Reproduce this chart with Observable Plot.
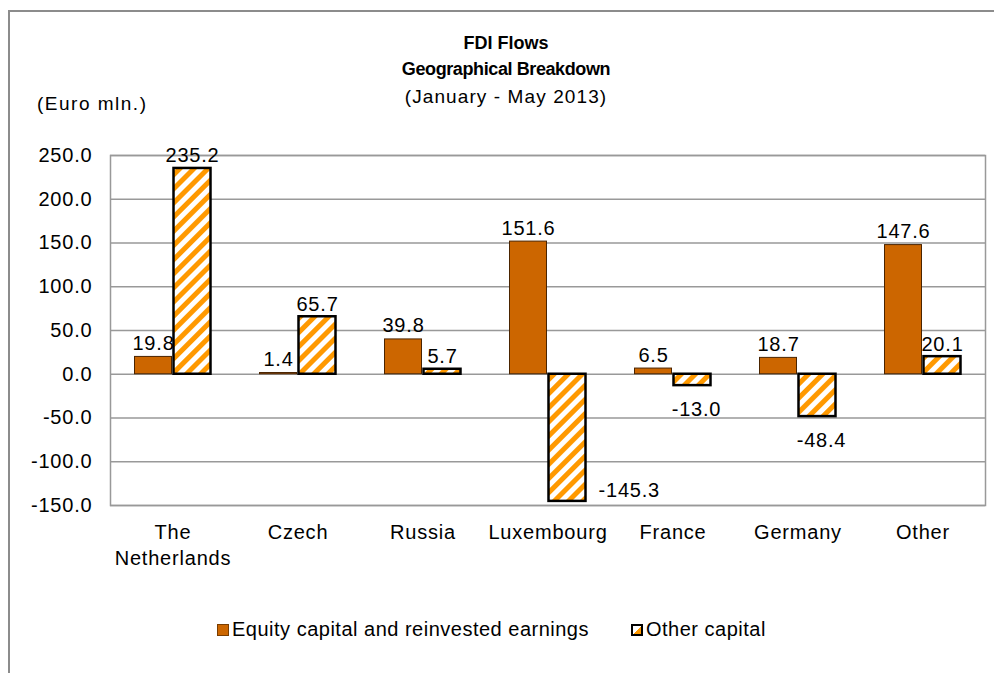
<!DOCTYPE html>
<html>
<head>
<meta charset="utf-8">
<script src="https://cdn.jsdelivr.net/npm/d3@7"></script>
<script src="https://cdn.jsdelivr.net/npm/@observablehq/plot@0.6"></script>
<style>
  html, body { margin: 0; padding: 0; background: #fff; }
  body { font-family: "Liberation Sans", Arial, sans-serif; color: #000; }
  #wrap { position: relative; width: 994px; height: 673px; overflow: hidden; }
  #border { position: absolute; left: 8px; top: 10px; width: 1100px; height: 800px;
            border-left: 2px solid #8c8c8c; border-top: 2px solid #8c8c8c; }
  #chart { position: absolute; left: 0; top: 0; }
  .t { position: absolute; left: 306px; width: 400px; text-align: center; white-space: nowrap; }
  #title1 { top: 33px; font-weight: bold; font-size: 18px; letter-spacing: 0px; }
  #title2 { top: 59px; font-weight: bold; font-size: 18px; letter-spacing: -0.4px; }
  #title3 { top: 86px; font-size: 19px; letter-spacing: 1.1px; }
  #unit { position: absolute; left: 37px; top: 93px; font-size: 19px; letter-spacing: 1.5px; }
  #legend { position: absolute; top: 618px; left: 0; font-size: 20px; letter-spacing: 0.5px; white-space: nowrap; }
  .li { position: absolute; top: 0; display: flex; align-items: center; }
  .sw { width: 12px; height: 12px; margin-right: 3px; box-sizing: border-box; }
  #chart svg text { letter-spacing: 0.8px; }
</style>
</head>
<body>
<div id="wrap">
  <div id="border"></div>
  <div id="chart"></div>
  <div class="t" id="title1">FDI Flows</div>
  <div class="t" id="title2">Geographical Breakdown</div>
  <div class="t" id="title3">(January - May 2013)</div>
  <div id="unit">(Euro mln.)</div>
  <div id="legend"></div>
</div>
<script>
// ---- data ----
const countries = ["The Netherlands", "Czech", "Russia", "Luxembourg", "France", "Germany", "Other"];
const countryLabels = ["The\nNetherlands", "Czech", "Russia", "Luxembourg", "France", "Germany", "Other"];
const equityValues = [19.8, 1.4, 39.8, 151.6, 6.5, 18.7, 147.6];
const otherValues = [235.2, 65.7, 5.7, -145.3, -13.0, -48.4, 20.1];
const seriesNames = ["Equity capital and reinvested earnings", "Other capital"];
const yTicks = [-150, -100, -50, 0, 50, 100, 150, 200, 250];

const equity = countries.map((c, i) => ({country: c, value: equityValues[i]}));
const other = countries.map((c, i) => ({country: c, value: otherValues[i]}));

const fmt = d => d.toFixed(1);
const labelMap = new Map(countries.map((c, i) => [c, countryLabels[i]]));

const barInset = 44;
const off = 19.5;

const otherPos = other.filter(d => d.value >= 0);
const otherNeg = other.filter(d => d.value < 0 && d.value > -100);
const otherDeep = other.filter(d => d.value <= -100);

const chart = Plot.plot({
  width: 994,
  height: 673,
  marginTop: 155,
  marginBottom: 168,
  marginLeft: 110,
  marginRight: 9,
  style: {fontFamily: "'Liberation Sans', Arial, sans-serif", fontSize: "20px", color: "#000", background: "transparent"},
  x: {type: "band", domain: countries, paddingInner: 0, paddingOuter: 0},
  y: {domain: [-150, 250]},
  marks: [
    Plot.ruleY(yTicks, {stroke: "#999", strokeWidth: 1.5}),
    Plot.frame({stroke: "#999", strokeWidth: 1.5}),
    Plot.axisY({ticks: yTicks, tickSize: 0, tickPadding: 18, tickFormat: fmt, fontSize: 20, label: null}),
    Plot.axisX({tickSize: 0, tickPadding: 15, tickFormat: d => labelMap.get(d), fontSize: 20, lineHeight: 1.3, label: null, lineAnchor: "top"}),
    Plot.barY(equity, {x: "country", y: "value", fill: "#CC6600", stroke: "#4a2400", strokeWidth: 1, insetLeft: barInset, insetRight: barInset, dx: -off}),
    Plot.barY(other, {x: "country", y: "value", fill: "url(#hatch)", stroke: "#000", strokeWidth: 2.5, insetLeft: barInset, insetRight: barInset, dx: off}),
    Plot.text(equity, {x: "country", y: "value", text: d => fmt(d.value), dx: -off, dy: -7, lineAnchor: "bottom", fontSize: 20}),
    Plot.text(otherPos, {x: "country", y: "value", text: d => fmt(d.value), dx: off, dy: -6, lineAnchor: "bottom", fontSize: 20}),
    Plot.text(otherNeg, {x: "country", y: "value", text: d => fmt(d.value), dx: off + 4, dy: 16, lineAnchor: "top", fontSize: 20}),
    Plot.text(otherDeep, {x: "country", y: "value", text: d => fmt(d.value), dx: off + 31, dy: -11, textAnchor: "start", lineAnchor: "middle", fontSize: 20})
  ]
});

// hatch pattern definition
const svg = d3.select(chart);
const defs = svg.insert("defs", ":first-child");
const pat = defs.append("pattern")
  .attr("id", "hatch")
  .attr("patternUnits", "userSpaceOnUse")
  .attr("width", 10).attr("height", 10)
  .attr("patternTransform", "rotate(45)");
pat.append("rect").attr("width", 10).attr("height", 10).attr("fill", "#fff");
pat.append("rect").attr("width", 5).attr("height", 10).attr("fill", "#FF9900");

document.getElementById("chart").appendChild(chart);

// legend
const legend = document.getElementById("legend");
const items = [
  {name: seriesNames[0], left: 217, sw: "background:#CC6600;border:1px solid #7a3d00;"},
  {name: seriesNames[1], left: 631, sw: "background:linear-gradient(135deg,#fff 55%,#FF9900 55%);border:2.5px solid #000;"}
];
for (const it of items) {
  const el = document.createElement("div");
  el.className = "li";
  el.style.left = it.left + "px";
  el.innerHTML = `<span class="sw" style="${it.sw}"></span><span>${it.name}</span>`;
  legend.appendChild(el);
}
</script>
</body>
</html>
